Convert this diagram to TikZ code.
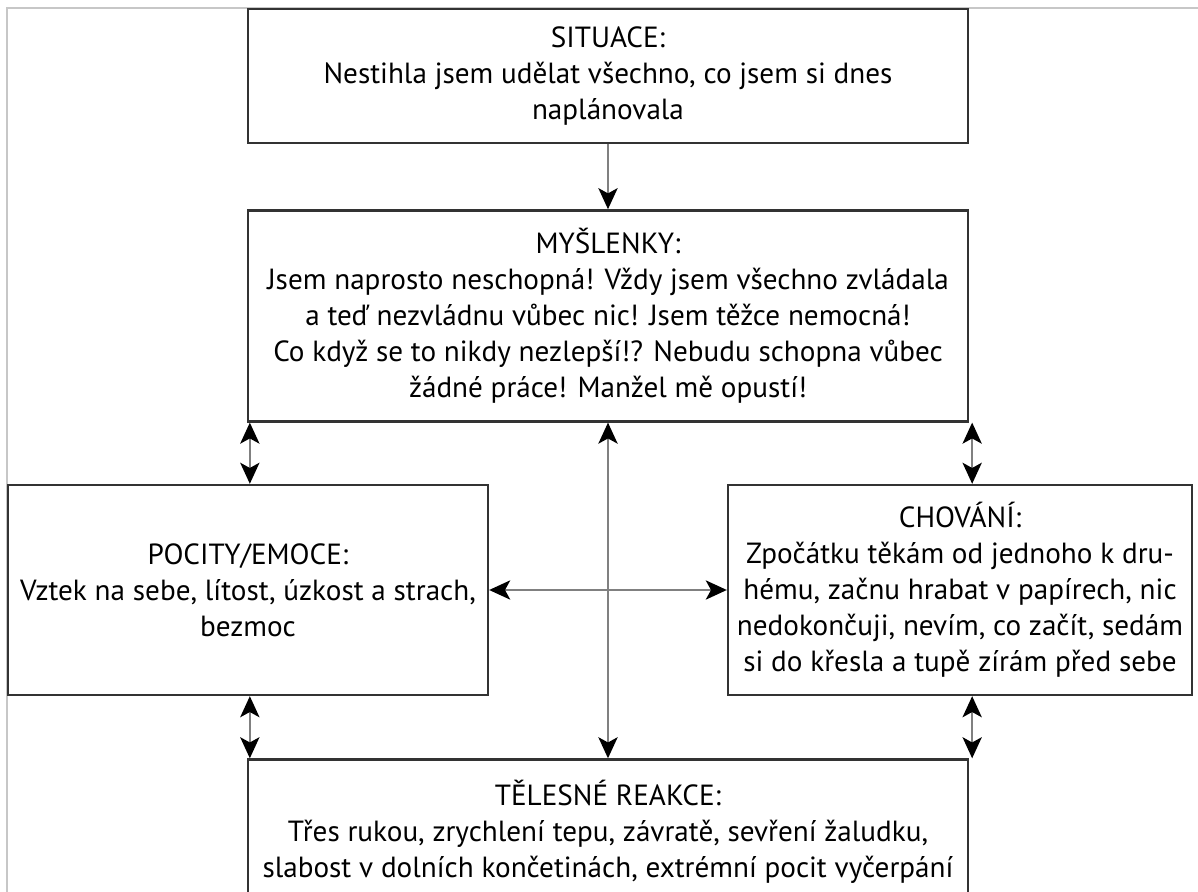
\documentclass[tikz,border=0pt]{standalone}
\usepackage{fontspec}
\setmainfont{PT Sans}
\usetikzlibrary{arrows.meta,positioning}

\begin{document}
\begin{tikzpicture}[
      x=0.02cm, y=-0.02cm,
      box/.style={draw=black!80, line width=1.4pt, align=center, inner sep=0pt,
        font=\fontsize{16.6}{20.5}\selectfont},
      arr/.style={-{Stealth[length=12pt, width=11pt, inset=3pt, color=black, fill=black]}, draw=black!50, line width=0.9pt},
      dbl/.style={{Stealth[length=12pt, width=11pt, inset=3pt, color=black, fill=black]}-{Stealth[length=12pt, width=11pt, inset=3pt, color=black, fill=black]},
        draw=black!50, line width=0.9pt}
    ]
      \useasboundingbox (0,0) rectangle (1198,892);
      \draw[black!22, line width=0.6pt] (7,892) -- (7,8) -- (1198,8);
      \node[box, minimum width=14.4cm, minimum height=2.68cm] (situace) at (608,76)
        {SITUACE:\\Nestihla jsem udělat všechno, co jsem si dnes\\naplánovala};
      \node[box, minimum width=14.4cm, minimum height=4.22cm, below=1.3cm of situace] (myslenky)
        {MYŠLENKY:\\Jsem naprosto neschopná! Vždy jsem všechno zvládala\\a teď nezvládnu vůbec nic! Jsem těžce nemocná!\\Co když se to nikdy nezlepší!? Nebudu schopna vůbec\\žádné práce! Manžel mě opustí!};
      \node[box, minimum width=9.6cm, minimum height=4.2cm] (pocity) at (248,590)
        {POCITY/EMOCE:\\Vztek na sebe, lítost, úzkost a strach,\\bezmoc};
      \node[box, minimum width=9.28cm, minimum height=4.2cm] (chovani) at (960,590)
        {CHOVÁNÍ:\\Zpočátku těkám od jednoho k dru-\\hému, začnu hrabat v papírech, nic\\nedokončuji, nevím, co začít, sedám\\si do křesla a tupě zírám před sebe};
      \node[box, minimum width=14.4cm, minimum height=2.9cm] (telesne) at (608,832)
        {TĚLESNÉ REAKCE:\\Třes rukou, zrychlení tepu, závratě, sevření žaludku,\\slabost v dolních končetinách, extrémní pocit vyčerpání};
      \draw[arr] (situace) -- (myslenky);
      \draw[dbl] ([xshift=0.06cm]myslenky.south west) -- ([xshift=0.06cm]myslenky.south west |- pocity.north);
      \draw[dbl] ([xshift=0.06cm]myslenky.south east) -- ([xshift=0.06cm]myslenky.south east |- chovani.north);
      \draw[dbl] ([xshift=0.06cm]telesne.north west |- pocity.south) -- ([xshift=0.06cm]telesne.north west);
      \draw[dbl] ([xshift=0.06cm]telesne.north east |- chovani.south) -- ([xshift=0.06cm]telesne.north east);
      \draw[dbl] (myslenky.south) -- (myslenky.south |- telesne.north);
      \draw[dbl] (pocity.east) -- (chovani.west);
    \end{tikzpicture}
\end{document}
